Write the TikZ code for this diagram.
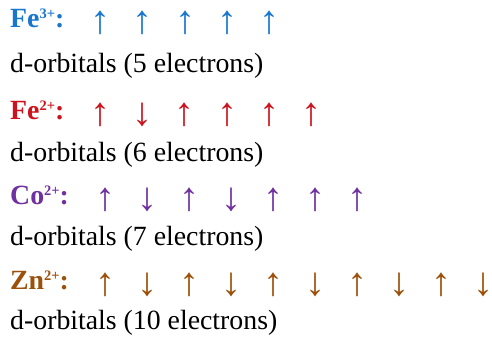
\documentclass[tikz,border=0pt]{standalone}
\usepackage{fontspec}
\setmainfont{Liberation Serif}
\definecolor{cfe3}{RGB}{25,118,205}
\definecolor{cfe2}{RGB}{205,20,30}
\definecolor{cco}{RGB}{112,48,160}
\definecolor{czn}{RGB}{156,80,10}
\newcommand{\chg}[1]{\raisebox{8.6pt}{\fontsize{14.5pt}{15pt}\selectfont #1}}
\tikzset{
  lbl/.style={inner sep=0pt, anchor=base west, font=\fontsize{27.8pt}{30pt}\selectfont\bfseries},
  desc/.style={inner sep=0pt, anchor=base west, font=\fontsize{27.8pt}{30pt}\selectfont},
  spin/.style={inner sep=0pt, anchor=base, yshift=-6pt, font=\fontsize{40pt}{42pt}\selectfont}
}
\begin{document}
\begin{tikzpicture}[x=1pt,y=1pt]
\useasboundingbox (0,0) rectangle (492,-341);
% Fe3+
\node[lbl, text=cfe3] (l1) at (10,-27) {Fe\chg{3+}:};
\foreach \x [count=\i] in {100,142,185,227,269}
  \node[spin, text=cfe3] (a1\i) at (\x,-27) {↑};
\node[desc] (d1) at (10,-72) {d-orbitals (5 electrons)};
% Fe2+
\node[lbl, text=cfe2] (l2) at (10,-119) {Fe\chg{2+}:};
\foreach \x/\s [count=\i] in {100/↑,142/↓,184/↑,227/↑,269/↑,311/↑}
  \node[spin, text=cfe2] (a2\i) at (\x,-119) {\s};
\node[desc] (d2) at (10,-161) {d-orbitals (6 electrons)};
% Co2+
\node[lbl, text=cco] (l3) at (10,-204) {Co\chg{2+}:};
\foreach \x/\s [count=\i] in {105/↑,147/↓,189/↑,231/↓,273/↑,315/↑,357/↑}
  \node[spin, text=cco] (a3\i) at (\x,-204) {\s};
\node[desc] (d3) at (10,-245) {d-orbitals (7 electrons)};
% Zn2+
\node[lbl, text=czn] (l4) at (10,-289) {Zn\chg{2+}:};
\foreach \x/\s [count=\i] in {105/↑,147/↓,189/↑,231/↓,273/↑,315/↓,357/↑,399/↓,441/↑,483/↓}
  \node[spin, text=czn] (a4\i) at (\x,-289) {\s};
\node[desc] (d4) at (10,-329) {d-orbitals (10 electrons)};
\end{tikzpicture}
\end{document}
